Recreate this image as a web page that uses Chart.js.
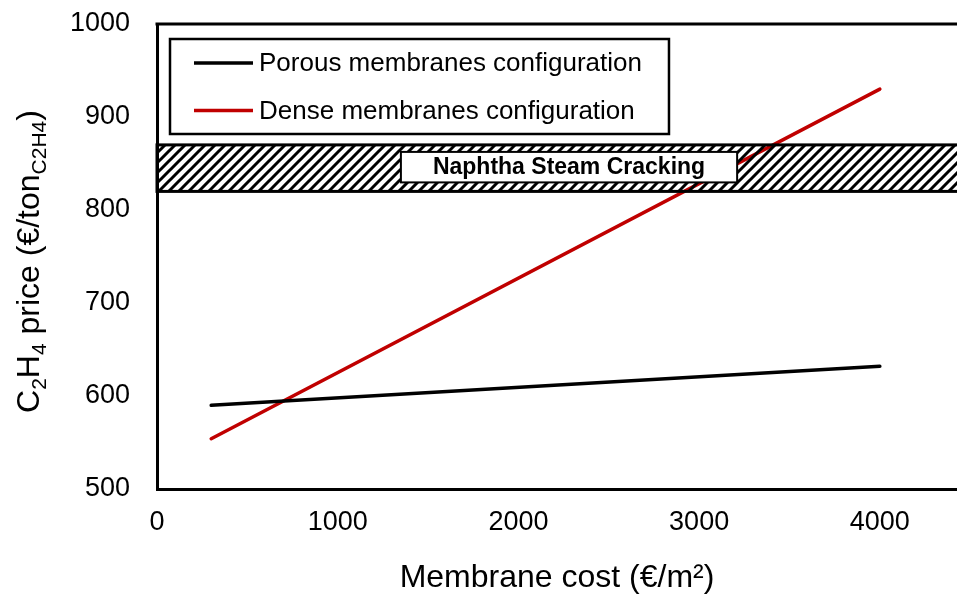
<!DOCTYPE html>
<html lang="en">
<head>
    <meta charset="UTF-8">
    <title>Ethylene price vs membrane cost</title>
    <script src="https://cdn.jsdelivr.net/npm/chart.js"></script>
    <style>
        body {
            margin: 0;
            background-color: white;
        }
        #chart-container {
            width: 957px;
            height: 596px;
            position: relative;
        }
    </style>
</head>
<body>
    <div id="chart-container">
        <canvas id="price-chart"></canvas>
    </div>

    <script>
        // values
        const membraneCost = [300, 4000];
        const porousPrice = [590, 632];
        const densePrice = [554, 930];
        const seriesNames = ['Porous membranes configuration', 'Dense membranes configuration'];
        const seriesColors = ['#000000', '#C00000'];
        const xTickValues = [0, 1000, 2000, 3000, 4000];
        const yTickValues = [500, 600, 700, 800, 900, 1000];
        const naphthaRange = [820, 870];
        const naphthaLabel = 'Naphtha Steam Cracking';

        const FONT = 'Arial, "Liberation Sans", sans-serif';

        function toPoints(xs, ys) {
            return xs.map((x, i) => ({ x: x, y: ys[i] }));
        }

        function hatchPattern(ctx) {
            const c = document.createElement('canvas');
            c.width = 10;
            c.height = 10;
            const p = c.getContext('2d');
            p.strokeStyle = '#000';
            p.lineWidth = 3;
            p.beginPath();
            p.moveTo(-5, 5); p.lineTo(5, -5);
            p.moveTo(0, 10); p.lineTo(10, 0);
            p.moveTo(5, 15); p.lineTo(15, 5);
            p.stroke();
            return ctx.createPattern(c, 'repeat');
        }

        // hatched band + label box, drawn over the lines like in the original
        const bandPlugin = {
            id: 'band',
            afterDatasetsDraw(chart) {
                const ctx = chart.ctx;
                const area = chart.chartArea;
                const ys = chart.scales.y;
                const xs = chart.scales.x;
                const top = ys.getPixelForValue(naphthaRange[1]);
                const bottom = ys.getPixelForValue(naphthaRange[0]);
                ctx.save();
                ctx.fillStyle = hatchPattern(ctx);
                ctx.fillRect(area.left, top, area.right - area.left, bottom - top);
                ctx.strokeStyle = '#000';
                ctx.lineWidth = 3;
                ctx.strokeRect(area.left, top, area.right - area.left + 5, bottom - top);

                ctx.font = 'bold 23px ' + FONT;
                const tw = ctx.measureText(naphthaLabel).width;
                const cx = xs.getPixelForValue(2280);
                const bw = tw + 64;
                const bTop = top + 7;
                const bH = bottom - top - 16;
                ctx.fillStyle = '#fff';
                ctx.fillRect(cx - bw / 2, bTop, bw, bH);
                ctx.lineWidth = 2;
                ctx.strokeRect(cx - bw / 2, bTop, bw, bH);
                ctx.fillStyle = '#000';
                ctx.textAlign = 'center';
                ctx.textBaseline = 'middle';
                ctx.fillText(naphthaLabel, cx, bTop + bH / 2 + 1);
                ctx.restore();
            }
        };

        // top frame line, legend box and the y title with subscripts
        const decoPlugin = {
            id: 'deco',
            afterDraw(chart) {
                const ctx = chart.ctx;
                const area = chart.chartArea;
                ctx.save();
                ctx.strokeStyle = '#000';
                ctx.lineWidth = 3;
                ctx.beginPath();
                ctx.moveTo(area.left - 1.5, area.top);
                ctx.lineTo(area.right + 5, area.top);
                ctx.stroke();

                // legend
                ctx.font = '26px ' + FONT;
                let maxW = 0;
                seriesNames.forEach(n => { maxW = Math.max(maxW, ctx.measureText(n).width); });
                const lx = area.left + 13;
                const ly = area.top + 15;
                const lw = 89 + maxW + 27;
                const lh = 95;
                ctx.lineWidth = 2.5;
                ctx.strokeRect(lx, ly, lw, lh);
                ctx.textAlign = 'left';
                ctx.textBaseline = 'middle';
                seriesNames.forEach((n, i) => {
                    const rowY = ly + 24 + i * 47.5;
                    ctx.strokeStyle = seriesColors[i];
                    ctx.lineWidth = 3.5;
                    ctx.beginPath();
                    ctx.moveTo(lx + 24, rowY);
                    ctx.lineTo(lx + 83, rowY);
                    ctx.stroke();
                    ctx.fillStyle = '#000';
                    ctx.fillText(n, lx + 89, rowY + 1);
                });

                // y axis title
                const parts = [
                    ['C', 0], ['2', 1], ['H', 0], ['4', 1],
                    [' price (\u20AC/ton', 0], ['C2H4', 1], [')', 0]
                ];
                const mainFont = '32px ' + FONT;
                const subFont = '21px ' + FONT;
                let total = 0;
                parts.forEach(p => {
                    ctx.font = p[1] ? subFont : mainFont;
                    total += ctx.measureText(p[0]).width;
                });
                ctx.translate(39, (area.top + area.bottom) / 2 + 5);
                ctx.rotate(-Math.PI / 2);
                ctx.fillStyle = '#000';
                ctx.textBaseline = 'alphabetic';
                let pos = -total / 2;
                parts.forEach(p => {
                    ctx.font = p[1] ? subFont : mainFont;
                    ctx.fillText(p[0], pos, p[1] ? 7 : 0);
                    pos += ctx.measureText(p[0]).width;
                });
                ctx.restore();
            }
        };

        const plain = v => String(v);

        const ctx = document.getElementById('price-chart').getContext('2d');
        const chart = new Chart(ctx, {
            type: 'scatter',
            data: {
                datasets: [
                    {
                        label: seriesNames[0],
                        data: toPoints(membraneCost, porousPrice),
                        showLine: true,
                        borderColor: seriesColors[0],
                        borderWidth: 3.5,
                        pointRadius: 0,
                        borderCapStyle: 'round'
                    },
                    {
                        label: seriesNames[1],
                        data: toPoints(membraneCost, densePrice),
                        showLine: true,
                        borderColor: seriesColors[1],
                        borderWidth: 3.5,
                        pointRadius: 0,
                        borderCapStyle: 'round'
                    }
                ]
            },
            options: {
                responsive: true,
                maintainAspectRatio: false,
                animation: false,
                layout: {
                    padding: { top: 24, right: 0, left: 0, bottom: 0 }
                },
                plugins: {
                    legend: { display: false },
                    tooltip: { enabled: false }
                },
                scales: {
                    x: {
                        type: 'linear',
                        min: 0,
                        max: 4427,
                        afterBuildTicks: s => { s.ticks = xTickValues.map(v => ({ value: v })); },
                        afterFit: s => { s.height = 107; },
                        grid: { display: false, drawTicks: false },
                        border: { display: true, color: '#000', width: 3 },
                        ticks: {
                            color: '#000',
                            padding: 17,
                            maxRotation: 0,
                            callback: plain,
                            font: { family: FONT, size: 27 }
                        },
                        title: {
                            display: true,
                            text: 'Membrane cost (\u20AC/m\u00B2)',
                            color: '#000',
                            padding: { top: 0, bottom: 0 },
                            font: { family: FONT, size: 32, lineHeight: 1.1 }
                        }
                    },
                    y: {
                        min: 500,
                        max: 1000,
                        afterBuildTicks: s => { s.ticks = yTickValues.map(v => ({ value: v })); },
                        afterFit: s => {
                            s.width = 157;
                            s.paddingTop = 0;
                            s.paddingBottom = 0;
                        },
                        grid: { display: false, drawTicks: false },
                        border: { display: true, color: '#000', width: 3 },
                        ticks: {
                            color: '#000',
                            padding: 27,
                            callback: plain,
                            font: { family: FONT, size: 27 }
                        }
                    }
                }
            },
            plugins: [bandPlugin, decoPlugin]
        });
    </script>
</body>
</html>
